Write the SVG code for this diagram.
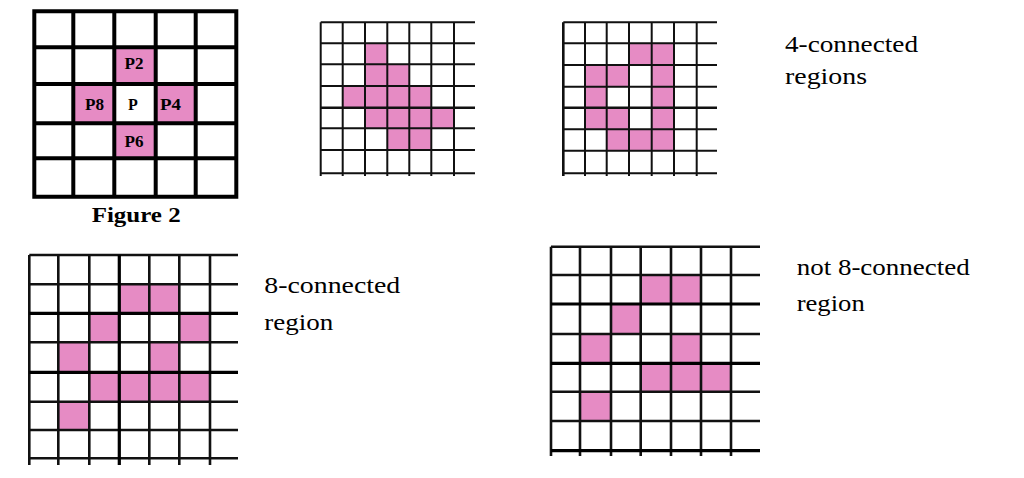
<svg xmlns="http://www.w3.org/2000/svg" width="1024" height="478" viewBox="0 0 1024 478" font-family="'Liberation Serif', 'Times New Roman', serif">
<style>
.pk{fill:#e68bc4}
.g4{fill:none;stroke:#000;stroke-width:4}
.g2{fill:none;stroke:#111;stroke-width:2}
.g3{fill:none;stroke:#111;stroke-width:2.6}
.lab{font-size:24px;fill:#000}
.pl{font-size:16px;font-weight:bold;fill:#000;text-anchor:middle}
.fig{font-size:22px;font-weight:bold;fill:#000}
</style>
<rect width="1024" height="478" fill="#fff"/>
<g id="figure2-grid">
<rect class="pk" x="114.3" y="47.3" width="41.4" height="36.7"/>
<rect class="pk" x="73.3" y="84" width="41" height="39.3"/>
<rect class="pk" x="155.7" y="84" width="40" height="39.3"/>
<rect class="pk" x="114.3" y="123.3" width="41.4" height="35"/>
<path class="g4" d="M34.3 11.3V196.7M73.3 11.3V196.7M114.3 11.3V196.7M155.7 11.3V196.7M195.7 11.3V196.7M236.3 11.3V196.7M32.3 11.3H238.3M32.3 47.3H238.3M32.3 84H238.3M32.3 123.3H238.3M32.3 158.3H238.3M32.3 196.7H238.3"/>
<text class="pl" x="134" y="68.5" textLength="19" lengthAdjust="spacingAndGlyphs">P2</text>
<text class="pl" x="94.5" y="110" textLength="19" lengthAdjust="spacingAndGlyphs">P8</text>
<text class="pl" x="133" y="110">P</text>
<text class="pl" x="170.5" y="110" textLength="21" lengthAdjust="spacingAndGlyphs">P4</text>
<text class="pl" x="134" y="147" textLength="19" lengthAdjust="spacingAndGlyphs">P6</text>
<text class="fig" x="91.7" y="221.7" textLength="89" lengthAdjust="spacingAndGlyphs">Figure 2</text>
</g>
<g id="grid-4conn-a">
<rect class="pk" x="365" y="43.3" width="22.3" height="21"/>
<rect class="pk" x="365" y="64.3" width="44.3" height="21.7"/>
<rect class="pk" x="343" y="86" width="88.3" height="21.7"/>
<rect class="pk" x="365" y="107.7" width="89" height="20.6"/>
<rect class="pk" x="387.3" y="128.3" width="44" height="21.7"/>
<path class="g2" d="M320.7 22.3V176M342.7 22.3V176M365 22.3V176M387.3 22.3V176M409.3 22.3V176M431.3 22.3V176M454 22.3V176M320.7 22.3H475M320.7 43.3H475M320.7 64.3H475M320.7 86H475M320.7 128.3H475M320.7 150H475M320.7 173.3H475"/>
<path class="g3" d="M320.7 107.7H475"/>
</g>
<g id="grid-4conn-b">
<rect class="pk" x="629" y="43.3" width="45" height="21.7"/>
<rect class="pk" x="585" y="65" width="44" height="21.7"/>
<rect class="pk" x="651.7" y="65" width="22.3" height="21.7"/>
<rect class="pk" x="585" y="86.7" width="21.7" height="21"/>
<rect class="pk" x="651.7" y="86.7" width="22.3" height="21"/>
<rect class="pk" x="585" y="107.7" width="44" height="21.6"/>
<rect class="pk" x="651.7" y="107.7" width="22.3" height="21.6"/>
<rect class="pk" x="606.7" y="129.3" width="67.3" height="21.4"/>
<path class="g2" d="M585 22.3V176M606.7 22.3V176M629 22.3V176M651.7 22.3V176M674 22.3V176M696.7 22.3V176M563.3 22.3H717M563.3 43.3H717M563.3 65H717M563.3 86.7H717M563.3 129.3H717M563.3 150.7H717M563.3 173.3H717"/>
<path class="g3" d="M563.3 22.3V176M563.3 107.7H717"/>
</g>
<g id="label-4conn">
<text class="lab" x="785" y="51.7" textLength="133" lengthAdjust="spacingAndGlyphs">4-connected</text>
<text class="lab" x="785" y="84" textLength="82" lengthAdjust="spacingAndGlyphs">regions</text>
</g>
<g id="grid-8conn">
<rect class="pk" x="119.3" y="284.3" width="60" height="29"/>
<rect class="pk" x="89.3" y="313.3" width="30" height="29"/>
<rect class="pk" x="179.3" y="313.3" width="30.7" height="29"/>
<rect class="pk" x="58.3" y="342.3" width="31" height="30"/>
<rect class="pk" x="149.3" y="342.3" width="30" height="30"/>
<rect class="pk" x="89.3" y="372.3" width="120.7" height="29.4"/>
<rect class="pk" x="58.3" y="401.7" width="31" height="28.3"/>
<path class="g3" d="M29.3 255V465M58.3 255V465M89.3 255V465M149.3 255V465M179.3 255V465M210 255V465M29.3 255H238M29.3 284.3H238M29.3 342.3H238M29.3 401.7H238M29.3 430H238M29.3 458.3H238"/>
<path class="g4" style="stroke-width:3.2" d="M119.3 255V465M29.3 313.3H238M29.3 372.3H238"/>
</g>
<g id="label-8conn">
<text class="lab" x="264.3" y="293.3" textLength="136" lengthAdjust="spacingAndGlyphs">8-connected</text>
<text class="lab" x="264.3" y="330" textLength="69" lengthAdjust="spacingAndGlyphs">region</text>
</g>
<g id="grid-not8conn">
<rect class="pk" x="640.7" y="275" width="60.3" height="29"/>
<rect class="pk" x="611" y="304" width="29.7" height="30"/>
<rect class="pk" x="580" y="334" width="31" height="29.3"/>
<rect class="pk" x="671" y="334" width="30" height="29.3"/>
<rect class="pk" x="640.7" y="363.3" width="90.3" height="28.4"/>
<rect class="pk" x="580" y="391.7" width="31" height="29.3"/>
<path class="g3" d="M551 246.7V456M580 246.7V456M611 246.7V456M640.7 246.7V456M671 246.7V456M701 246.7V456M731 246.7V456M551 246.7H760M551 275H760M551 334H760M551 391.7H760M551 421H760"/>
<path class="g4" style="stroke-width:3.2" d="M551 304H760M551 363.3H760M551 450.7H760"/>
</g>
<g id="label-not8conn">
<text class="lab" x="796.7" y="274.7" textLength="173" lengthAdjust="spacingAndGlyphs">not 8-connected</text>
<text class="lab" x="796.7" y="310.7" textLength="68" lengthAdjust="spacingAndGlyphs">region</text>
</g>
</svg>
